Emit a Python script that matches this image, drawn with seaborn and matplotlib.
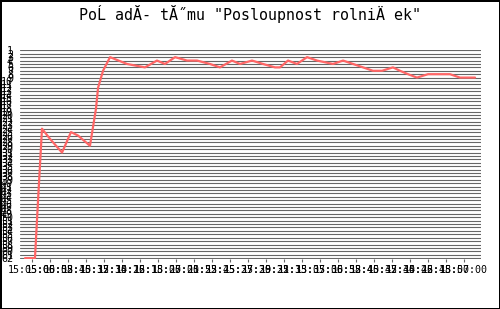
import matplotlib
matplotlib.use("Agg")
import matplotlib.pyplot as plt
import seaborn as sns
import pandas as pd

title = 'PoĹ adĂ- tĂ˝mu "Posloupnost rolniÄ ek"'

# time in minutes after 15:00
minutes = [4.27, 5.31, 5.63, 6.04, 6.88, 8.13, 9.06, 9.79, 11.04, 11.67, 11.88, 12.40,
           13.13, 14.90, 16.77, 18.02, 18.85, 19.90, 21.15, 22.19, 23.54, 24.58, 25.83,
           26.67, 27.92, 29.06, 30.31, 30.83, 31.67, 32.60, 33.65, 34.69, 36.35, 37.40,
           38.44, 39.48, 40.52, 41.46, 42.60, 43.33, 44.17, 45.10, 46.25, 47.19, 48.54,
           49.58, 50.31, 51.15]
rank = [62, 62, 45, 24, 27, 31, 25, 26, 29, 18, 12, 7,
        3, 5, 6, 4, 5, 3, 4, 4, 5, 6, 4,
        5, 4, 5, 6, 6, 4, 5, 3, 4, 5, 4,
        5, 6, 7, 7, 6, 7, 8, 9, 8, 8, 8,
        9, 9, 9]

rank_ticks = list(range(1, 63))
time_labels = ["15:05:00", "15:06:52", "15:08:45", "15:10:37", "15:12:30", "15:14:22",
               "15:16:15", "15:18:07", "15:20:00", "15:21:52", "15:23:45", "15:25:37",
               "15:27:30", "15:29:22", "15:31:15", "15:33:07", "15:35:00", "15:36:52",
               "15:38:45", "15:40:37", "15:42:30", "15:44:22", "15:46:15", "15:48:07",
               "15:50:00"]
time_ticks = [5 + i * 1.875 for i in range(len(time_labels))]

sns.set_theme(style="white")
plt.rcParams["font.family"] = ["DejaVu Sans Mono", "DejaVu Sans"]

fig = plt.figure(figsize=(5, 3.09), dpi=100)
fig.patch.set_facecolor("white")
fig.patch.set_edgecolor("black")
fig.patch.set_linewidth(2)

W, H = 500, 309
left, right, top, bottom = 20, 481, 50, 258.5
ax = fig.add_axes([left / W, 1 - bottom / H, (right - left) / W, (bottom - top) / H])

df = pd.DataFrame({"t": minutes, "rank": rank})
sns.lineplot(data=df, x="t", y="rank", sort=False, color="#ff6666", linewidth=1.6, ax=ax, zorder=3)

for r in rank_ticks:
    ax.axhline(r, color="#666666", linewidth=0.8, zorder=1)

ax.set_ylim(62.1, 0.9)
ax.set_xlim(3.75, 51.77)
for s in ax.spines.values():
    s.set_visible(False)

ax.set_yticks(rank_ticks)
ax.set_yticklabels([str(r) for r in rank_ticks], fontsize=7.2, color="black")
ax.set_xticks(time_ticks)
ax.set_xticklabels(time_labels, fontsize=7.2, color="black")
ax.tick_params(axis="y", length=0, pad=5)
ax.tick_params(axis="x", length=2.5, width=0.8, color="#666666", pad=2, direction="out", bottom=True)
ax.set_xlabel("")
ax.set_ylabel("")
ax.grid(False)

fig.text(0.5, 1 - 14 / H, title, ha="center", va="center", fontsize=10.8, color="black")

fig.savefig("out.png", dpi=100, facecolor="white", edgecolor="black")
